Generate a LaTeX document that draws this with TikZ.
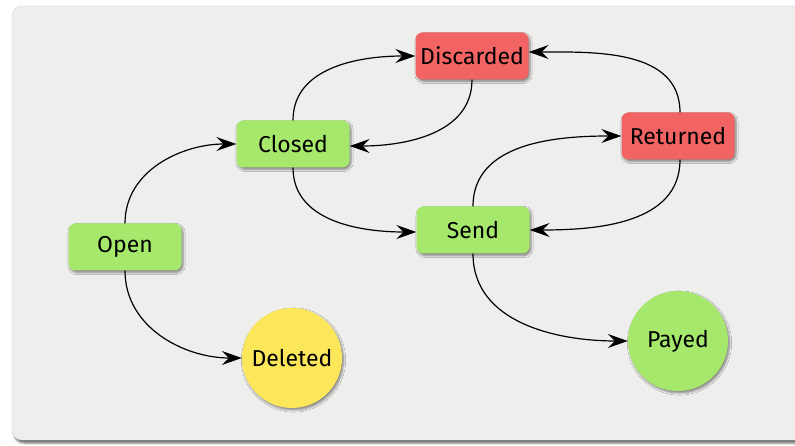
\documentclass[tikz,border=0pt]{standalone}
\usepackage{fontspec}
\setmainfont{Fira Sans}
\usetikzlibrary{arrows.meta,shadows.blur}
\definecolor{panel}{HTML}{EEEEEC}
\definecolor{gfill}{HTML}{A6E86C}
\definecolor{rfill}{HTML}{F26464}
\definecolor{yfill}{HTML}{FCE65A}
\tikzset{
  st/.style={rounded corners=7pt, minimum width=113pt, minimum height=47pt, font=\fontsize{23}{26}\selectfont, inner sep=0pt,
     blur shadow={shadow xshift=1.5pt, shadow yshift=-2pt, shadow blur steps=6, shadow opacity=45}},
  gst/.style={st, fill=gfill},
  rst/.style={st, fill=rfill},
  fin/.style={circle, minimum size=100pt, inner sep=0pt, font=\fontsize{23}{26}\selectfont,
     blur shadow={shadow xshift=1.5pt, shadow yshift=-2pt, shadow blur steps=6, shadow opacity=45}},
  tr/.style={-{Stealth[length=20pt, width=14pt, inset=7pt]}, line width=1.2pt, black}
}
\begin{document}
\begin{tikzpicture}[x=1pt,y=-1pt]
\useasboundingbox (0,0) rectangle (795,446);
\fill[panel, draw=black!15, rounded corners=10pt, blur shadow={shadow xshift=2pt, shadow yshift=-3pt, shadow opacity=60}] (12,6) rectangle (830,440);
\node[gst] (open) at (125,247) {Open};
\node[gst] (closed) at (293,144) {Closed};
\node[rst] (disc) at (472,56) {Discarded};
\node[rst] (ret) at (678,136) {Returned};
\node[gst] (send) at (473,230) {Send};
\node[fin, fill=yfill] (del) at (292,358) {Deleted};
\node[fin, fill=gfill] (pay) at (678,341) {Payed};
\draw[tr] (open.north) to[out=90,in=180] (closed.west);
\draw[tr] (open.south) to[out=-90,in=180] (del.west);
\draw[tr] (closed.north) to[out=90,in=180] (disc.west);
\draw[tr] (disc.south) to[out=-90,in=0] ([yshift=-2pt]closed.east);
\draw[tr] (closed.south) to[out=-90,in=180] ([yshift=-2pt]send.west);
\draw[tr] (send.north) to[out=90,in=180] (ret.west);
\draw[tr] ([xshift=2pt]ret.north) to[out=90,in=0] ([yshift=4pt]disc.east);
\draw[tr] ([xshift=2pt]ret.south) to[out=-90,in=0] (send.east);
\draw[tr] (send.south) to[out=-90,in=180] (pay.west);
\end{tikzpicture}
\end{document}
